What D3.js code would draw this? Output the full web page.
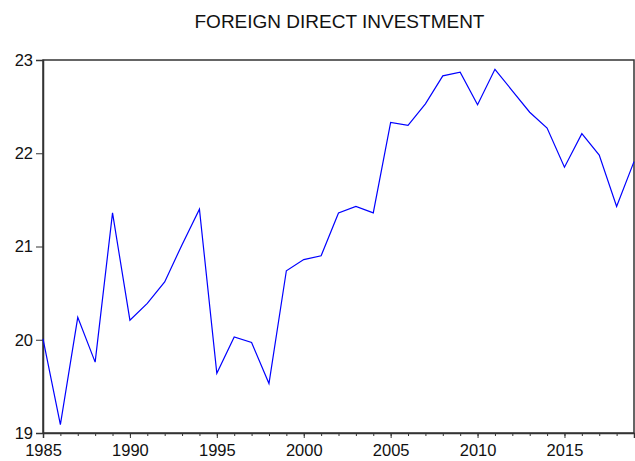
<!DOCTYPE html>
<html>
<head>
<meta charset="utf-8">
<script src="https://cdn.jsdelivr.net/npm/d3@7"></script>
<style>
  body { margin: 0; background: #fff; }
  text { font-family: "Liberation Sans", Arial, sans-serif; fill: #111; }
</style>
</head>
<body>
<svg id="chart" width="635" height="461"></svg>
<script>
var years = d3.range(1985, 2020);
var fdi = [20.01, 19.09, 20.24, 19.76, 21.36, 20.21, 20.39, 20.62, 21.02, 21.40,
           19.64, 20.03, 19.97, 19.53, 20.74, 20.86, 20.90, 21.36, 21.43, 21.36,
           22.33, 22.30, 22.53, 22.83, 22.87, 22.52, 22.90, 22.67, 22.44, 22.27,
           21.85, 22.21, 21.98, 21.43, 21.91];
var yTicks = [19, 20, 21, 22, 23];
var xMajor = [1985, 1990, 1995, 2000, 2005, 2010, 2015];

var svg = d3.select("#chart"),
  margin = {top: 60, right: 1, bottom: 28, left: 43},
  width = +svg.attr("width") - margin.left - margin.right,
  height = +svg.attr("height") - margin.top - margin.bottom;

var x = d3.scaleLinear().domain([1985, 2019]).range([0, width]),
  y = d3.scaleLinear().domain([19, 23]).range([height, 0]);

svg.append("text")
  .attr("x", margin.left + width / 2 + 1)
  .attr("y", 28)
  .attr("text-anchor", "middle")
  .style("font-size", "19px")
  .text("FOREIGN DIRECT INVESTMENT");

var g = svg.append("g")
  .attr("transform", "translate(" + margin.left + "," + margin.top + ")");

// frame
g.append("rect")
  .attr("width", width)
  .attr("height", height)
  .attr("fill", "none")
  .attr("stroke", "#333")
  .attr("stroke-width", 1.5);

// y axis
var yAxis = d3.axisLeft(y).tickValues(yTicks).tickSize(7).tickPadding(3).tickFormat(d3.format("d"));
g.append("g").call(yAxis)
  .call(function(s) {
    s.select(".domain").attr("stroke", "#333").attr("stroke-width", 1.5);
    s.selectAll(".tick line").attr("stroke", "#333");
    s.selectAll(".tick text").style("font-size", "16.5px").attr("fill", "#111");
  });

// x axis minor ticks every year
var xMinor = d3.axisBottom(x).tickValues(years).tickSize(3).tickFormat("");
g.append("g").attr("transform", "translate(0," + height + ")").call(xMinor)
  .call(function(s) {
    s.select(".domain").remove();
    s.selectAll(".tick line").attr("stroke", "#333");
  });

var xAxis = d3.axisBottom(x).tickValues(xMajor).tickSize(5).tickPadding(6).tickFormat(d3.format("d"));
g.append("g").attr("transform", "translate(0," + height + ")").call(xAxis)
  .call(function(s) {
    s.select(".domain").attr("stroke", "#333").attr("stroke-width", 1.5);
    s.selectAll(".tick line").attr("stroke", "#333");
    s.selectAll(".tick text").style("font-size", "16.5px").attr("fill", "#111");
  });

var line = d3.line()
  .x(function(d, i) { return x(years[i]); })
  .y(function(d) { return y(d); });

g.append("path")
  .datum(fdi)
  .attr("fill", "none")
  .attr("stroke", "#0000ff")
  .attr("stroke-width", 1.2)
  .attr("d", line);
</script>
</body>
</html>
